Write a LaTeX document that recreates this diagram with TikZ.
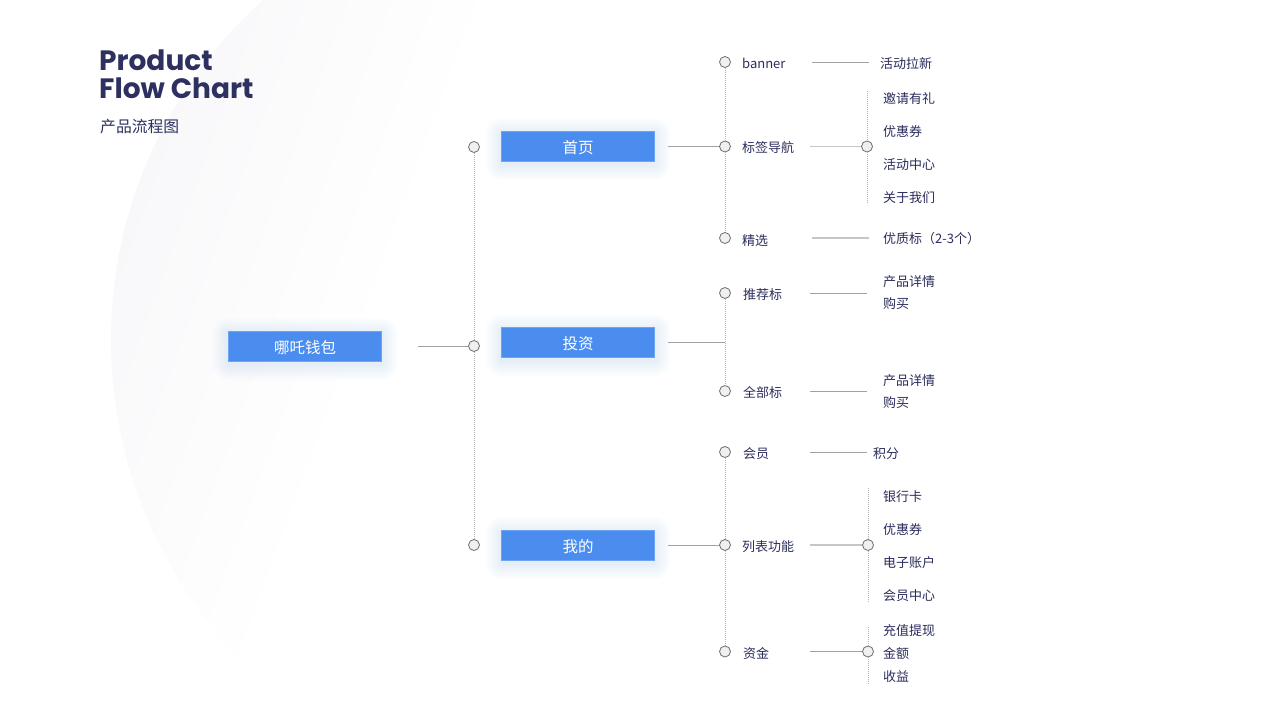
\documentclass[tikz,border=0pt]{standalone}
\usepackage{fontspec}
\setmainfont{Noto Sans CJK SC}
\newfontfamily\titlefont{Poppins}
\usetikzlibrary{calc}
\definecolor{navy}{HTML}{2E3160}
\definecolor{txt}{HTML}{2B2D5C}
\definecolor{boxblue}{HTML}{4A8DEF}
\definecolor{glowc}{HTML}{7FAEF6}
\definecolor{lnc}{HTML}{A2A2A2}
\definecolor{lnl}{HTML}{C6C6C6}
\definecolor{dotc}{HTML}{B4B4B4}
\definecolor{dotfill}{HTML}{F0F0F0}
\definecolor{dotdraw}{HTML}{6E6E6E}
\definecolor{bgc}{HTML}{F5F5F8}
\pgfdeclarehorizontalshading{bgfade}{100bp}{color(0bp)=(bgc); color(18bp)=(bgc); color(40bp)=(white); color(100bp)=(white)}
\tikzset{
  mainbox/.style={fill=boxblue, draw=boxblue!80!white, line width=0.6pt, minimum width=153pt, minimum height=30pt, inner sep=0pt, text height=15pt, text depth=0.2pt, text=white, font=\fontsize{15.5}{18}\selectfont},
  dot/.style={circle, minimum size=11pt, inner sep=0pt, draw=dotdraw, fill=dotfill, line width=0.8pt},
  lbl/.style={anchor=west, inner sep=0pt, text=txt, font=\fontsize{13}{15}\selectfont, yshift=-1.3pt},
  ln/.style={draw=lnc, line width=0.9pt},
  lnthick/.style={draw=lnl, line width=1.5pt},
  dl/.style={draw=dotc, line width=0.8pt, dash pattern=on 1pt off 1pt},
}
\newcommand\mkglow[1]{%
  \foreach \k in {16,14,12,10,8,6,4,2}{%
    \fill[glowc, opacity=0.022, rounded corners=\k pt] ($(#1)+(-76.5-\k,-15-\k+3)$) rectangle ($(#1)+(76.5+\k,15+\k+3)$);
  }%
}
\begin{document}
\begin{tikzpicture}[x=1pt,y=-1pt]
\useasboundingbox (0,0) rectangle (1280,720);
\fill[white] (0,0) rectangle (1280,720);
\begin{scope}
\clip (0,0) rectangle (1280,720);
\shade[shading=bgfade, shading angle=-20] (567,340) circle (456);
\end{scope}

% title
\node[anchor=base west, inner sep=0pt, text=navy, font=\titlefont\bfseries\fontsize{28}{30}\selectfont] (t1) at (99,70) {Product};
\node[anchor=base west, inner sep=0pt, text=navy, font=\titlefont\bfseries\fontsize{28}{30}\selectfont] (t2) at (99,98) {Flow Chart};
\node[anchor=west, inner sep=0pt, text=navy, font=\fontsize{15.8}{18}\selectfont] (t3) at (100,127) {产品流程图};

% glows
\mkglow{305,346}
\mkglow{578,146}
\mkglow{578,342}
\mkglow{578,545}

% main boxes
\node[mainbox] (root) at (305,346) {哪吒钱包};
\node[mainbox] (sy) at (578,146) {首页};
\node[mainbox] (tz) at (578,342) {投资};
\node[mainbox] (wd) at (578,545) {我的};

% level 1 dots
\node[dot] (c1) at (474,147) {};
\node[dot] (c2) at (474,346) {};
\node[dot] (c3) at (474,545) {};
\draw[dl] (c1) -- (c2);
\draw[dl] (c2) -- (c3);
\draw[ln] ([xshift=36]root.east) -- (c2);

% level 2 dots
\node[dot] (d1) at (725,62) {};
\node[dot] (d2) at (725,146.5) {};
\node[dot] (d3) at (725,238) {};
\node[dot] (d4) at (725,293) {};
\coordinate (j2) at (725,342);
\node[dot] (d5) at (725,391) {};
\node[dot] (d6) at (725,452) {};
\node[dot] (d7) at (725,545) {};
\node[dot] (d8) at (725,651.5) {};
\draw[dl] (d1) -- (d2);
\draw[dl] (d2) -- (d3);
\draw[dl] (d4) -- (d5);
\draw[dl] (d6) -- (d7);
\draw[dl] (d7) -- (d8);
\draw[ln] ([xshift=13]sy.east) -- (sy.east -| d2.west);
\draw[ln] ([xshift=13]tz.east) -- (j2);
\draw[ln] ([xshift=13]wd.east) -- (d7);

% level 2 labels
\node[lbl] (l1) at (742,62) {banner};
\node[lbl] (l2) at (742,146) {标签导航};
\node[lbl] (l3) at (742,239) {精选};
\node[lbl] (l4) at (743,293) {推荐标};
\node[lbl] (l5) at (743,391) {全部标};
\node[lbl] (l6) at (743,452) {会员};
\node[lbl] (l7) at (742,545) {列表功能};
\node[lbl] (l8) at (743,652) {资金};

% level 3 dots
\node[dot] (e1) at (867,146.5) {};
\node[dot] (e2) at (868,545) {};
\node[dot] (e3) at (868,651.5) {};
\coordinate (e1t) at (867,91);
\coordinate (e1b) at (867,204);
\coordinate (e2t) at (868,488);
\coordinate (e2b) at (868,602);
\coordinate (e3t) at (868,627);
\coordinate (e3b) at (868,685);
\draw[dl] (e1t) -- (e1); \draw[dl] (e1) -- (e1b);
\draw[dl] (e2t) -- (e2); \draw[dl] (e2) -- (e2b);
\draw[dl] (e3t) -- (e3); \draw[dl] (e3) -- (e3b);

% level 3 lines
\draw[ln] ([xshift=81]d1.east) -- ([xshift=138]d1.east);
\draw[lnthick] ([xshift=79]d2.east) -- (e1);
\draw[lnthick] ([xshift=81]d3.east) -- ([xshift=138]d3.east);
\draw[ln] ([xshift=79]d4.east) -- ([xshift=136]d4.east);
\draw[ln] ([xshift=79]d5.east) -- ([xshift=136]d5.east);
\draw[ln] ([xshift=79]d6.east) -- ([xshift=136]d6.east);
\draw[lnthick] ([xshift=79]d7.east) -- (e2);
\draw[ln] ([xshift=79]d8.east) -- (e3);

% level 3 labels
\node[lbl] (m1) at (880,62) {活动拉新};
\node[lbl] (m2) at (883,97) {邀请有礼};
\node[lbl] (m3) at (883,130) {优惠券};
\node[lbl] (m4) at (883,163) {活动中心};
\node[lbl] (m5) at (883,196) {关于我们};
\node[lbl] (m6) at (883,237) {优质标（2-3个）};
\node[lbl] (m7) at (883,280) {产品详情};
\node[lbl] (m8) at (883,302) {购买};
\node[lbl] (m9) at (883,379) {产品详情};
\node[lbl] (m10) at (883,401) {购买};
\node[lbl] (m11) at (873,452) {积分};
\node[lbl] (m12) at (883,495) {银行卡};
\node[lbl] (m13) at (883,528) {优惠券};
\node[lbl] (m14) at (883,561) {电子账户};
\node[lbl] (m15) at (883,594) {会员中心};
\node[lbl] (m16) at (883,629) {充值提现};
\node[lbl] (m17) at (883,652) {金额};
\node[lbl] (m18) at (883,675) {收益};
\end{tikzpicture}
\end{document}
